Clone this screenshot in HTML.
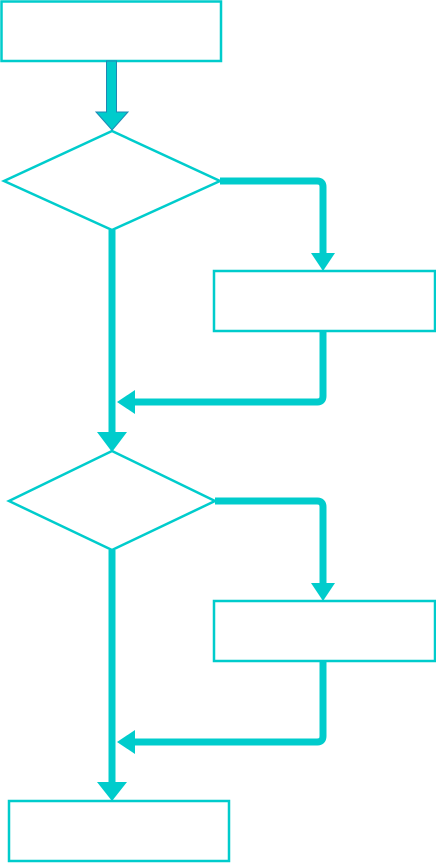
<!DOCTYPE html>
<html><head><meta charset="utf-8"><style>
html,body{margin:0;padding:0;background:#fff;width:436px;height:863px;overflow:hidden}
svg{display:block}
</style></head><body>
<svg width="436" height="863" viewBox="0 0 436 863" xmlns="http://www.w3.org/2000/svg">
<g fill="#fff" stroke="#00CCCC" stroke-width="2.5">
<rect x="1.5" y="1.5" width="219.5" height="59.5"/>
<polygon points="112,131 220,181 112,230 4,181"/>
<rect x="214" y="271" width="221" height="60"/>
<polygon points="112,451 215,501 112,550 9,501"/>
<rect x="214" y="601" width="221" height="60"/>
<rect x="9" y="801" width="220" height="60"/>
</g>
<polygon points="106.5,61 116.5,61 116.5,112 128,112 112,130 96,112 106.5,112" fill="#00CCCC" stroke="#1E88B4" stroke-width="1"/>
<g fill="none" stroke="#00CCCC" stroke-width="7" stroke-linejoin="round">
<path d="M220,181 H317 Q323,181 323,187 V255"/>
<path d="M323,331 V396 Q323,402 317,402 H133"/>
<path d="M112,230 V434"/>
<path d="M215,501 H317 Q323,501 323,507 V585"/>
<path d="M323,661 V736 Q323,742 317,742 H133"/>
<path d="M112,550 V784"/>
</g>
<g fill="#00CCCC">
<polygon points="311,253 335,253 323,271"/>
<polygon points="135,390 135,414 117,402"/>
<polygon points="97,432 127,432 112,452"/>
<polygon points="311,583 335,583 323,601"/>
<polygon points="135,730 135,754 117,742"/>
<polygon points="97,782 127,782 112,801"/>
</g>
</svg>
</body></html>
